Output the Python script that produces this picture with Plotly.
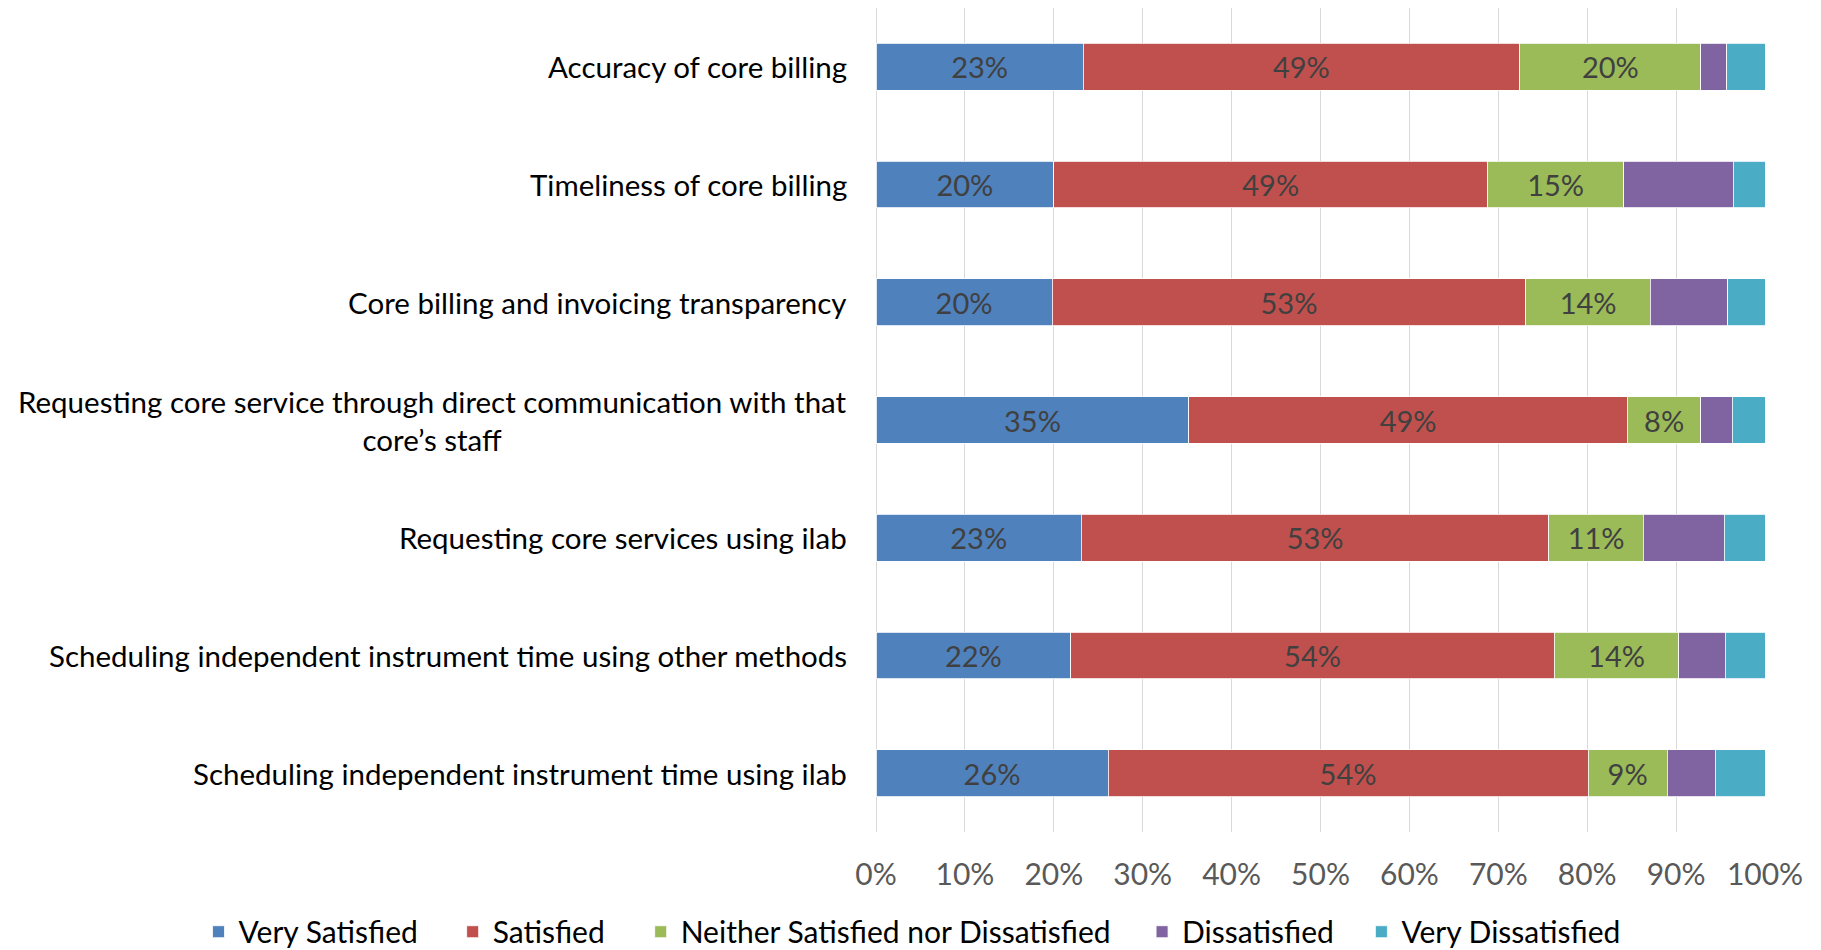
import plotly.graph_objects as go

categories = [
    "Accuracy of core billing",
    "Timeliness of core billing",
    "Core billing and invoicing transparency",
    "Requesting core service through direct communication with that<br>core’s staff",
    "Requesting core services using ilab",
    "Scheduling independent instrument time using other methods",
    "Scheduling independent instrument time using ilab",
]
series_names = ["Very Satisfied", "Satisfied", "Neither Satisfied nor Dissatisfied",
                "Dissatisfied", "Very Dissatisfied"]
very_satisfied = [23.3, 20.0, 19.8, 35.2, 23.1, 21.9, 26.1]
satisfied = [49.1, 48.8, 53.3, 49.3, 52.6, 54.4, 54.0]
neither = [20.4, 15.3, 14.0, 8.3, 10.6, 14.0, 8.9]
dissatisfied = [2.9, 12.3, 8.7, 3.5, 9.1, 5.2, 5.4]
very_dissatisfied = [4.3, 3.6, 4.2, 3.7, 4.6, 4.5, 5.6]
tick_values = [0, 10, 20, 30, 40, 50, 60, 70, 80, 90, 100]
tick_labels = ["0%", "10%", "20%", "30%", "40%", "50%", "60%", "70%", "80%", "90%", "100%"]

colors = ["#4F81BD", "#C0504D", "#9BBB59", "#8064A2", "#4BACC6"]
labelled = [True, True, True, False, False]
values = [very_satisfied, satisfied, neither, dissatisfied, very_dissatisfied]
# one legend per series so the entries sit where they do in the original
legend_ids = ["legend", "legend2", "legend3", "legend4", "legend5"]
legend_x = [-0.7621, -0.4762, -0.2647, 0.2993, 0.5460]

FONT = "Lato"

fig = go.Figure()
for name, vals, color, show, lid in zip(series_names, values, colors, labelled, legend_ids):
    fig.add_trace(go.Bar(
        y=categories, x=vals, name=name, orientation="h", legend=lid,
        marker=dict(color=color, line=dict(color="white", width=0.8)),
        text=vals if show else None,
        texttemplate="%{x:.0f}%" if show else None,
        textposition="inside" if show else "none",
        insidetextanchor="middle",
        constraintext="none",
        textfont=dict(family=FONT, size=29, color="#404040"),
        hoverinfo="skip",
    ))

# category labels drawn as annotations so the wrapped line is centred
for cat in categories:
    fig.add_annotation(
        x=0, xref="paper", y=cat, yref="y", text=cat, showarrow=False,
        xanchor="right", xshift=-27, align="center",
        font=dict(family=FONT, size=29.5, color="#000000"),
    )

legend_style = dict(orientation="h", xanchor="left", y=-0.121, yanchor="middle",
                    font=dict(family=FONT, size=30, color="#000000"),
                    bgcolor="rgba(0,0,0,0)")

# page body adds an 8px offset, margins are shifted to compensate
fig.update_layout(
    width=1821, height=950,
    barmode="stack", bargap=0.603,
    margin=dict(l=868, r=64, t=0, b=126, autoexpand=False),
    plot_bgcolor="white", paper_bgcolor="white",
    font=dict(family=FONT, size=30, color="#000000"),
    showlegend=True,
    legend=dict(x=legend_x[0], **legend_style),
    legend2=dict(x=legend_x[1], **legend_style),
    legend3=dict(x=legend_x[2], **legend_style),
    legend4=dict(x=legend_x[3], **legend_style),
    legend5=dict(x=legend_x[4], **legend_style),
)
fig.update_xaxes(
    range=[0, 100], tickvals=tick_values, ticktext=tick_labels,
    showgrid=True, gridcolor="#D9D9D9", gridwidth=1.3,
    zeroline=True, zerolinecolor="#D9D9D9", zerolinewidth=1.3,
    showline=False, ticks="", ticklabelstandoff=22,
    tickfont=dict(family=FONT, size=30, color="#595959"),
)
fig.update_yaxes(
    categoryorder="array", categoryarray=categories, autorange="reversed",
    showticklabels=False, showgrid=False, zeroline=False, ticks="",
)

fig.write_html("out.html")
